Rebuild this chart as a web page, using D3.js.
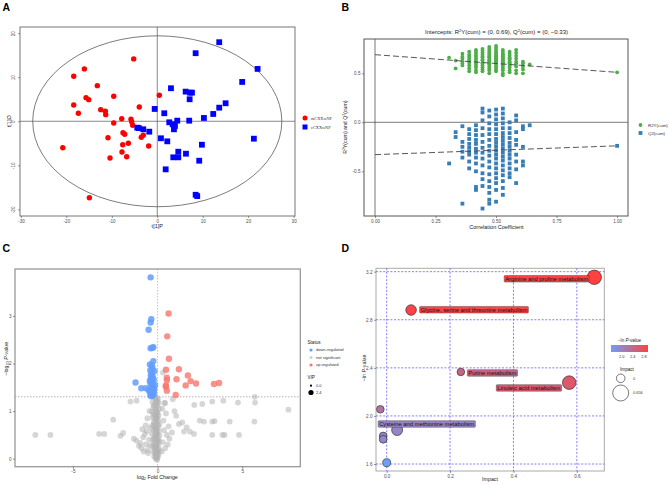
<!DOCTYPE html>
<html><head><meta charset="utf-8">
<script src="https://cdn.jsdelivr.net/npm/d3@7"></script>
<style>body{margin:0;background:#fff}svg{display:block;font-family:"Liberation Sans",Arial,sans-serif}</style>
</head><body><svg id="c" width="669" height="485"></svg>
<script>
// ---------------- Panel A data (OPLS-DA scores) ----------------
const aGroups = ["mCXXwNP", "cCXXwNP"];
const aRedX = [-5.19,-16.04,-18.38,-13.19,-9.58,-15.67,-15.08,-18.38,-3.96,-12.44,-11.43,-17.36,-11.34,-7.82,-5.78,-5.63,-9.58,-5.41,-7.54,-7.16,-3.08,-3.52,-10.84,-1.89,-7.60,-6.37,-20.79,-7.76,-6.73,-10.40,-14.94,0.45];
const aRedY = [14.16,11.89,10.23,8.09,5.68,5.36,4.91,3.70,3.25,2.64,2.27,1.82,1.50,0.59,0.45,-0.09,-0.39,-0.91,-2.59,-2.95,-3.18,-3.64,-3.73,-5.61,-5.32,-5.00,-6.00,-6.98,-8.04,-8.34,-17.36,5.90];
const aBlueX = [13.63,8.44,22.07,18.68,3.01,6.24,7.19,7.63,7.12,15.03,13.63,12.31,1.54,10.26,7.03,4.40,2.64,3.38,3.89,3.67,0.81,2.20,21.25,9.82,4.62,6.31,3.52,4.62,9.23,1.85,8.44,8.79,-0.57,-4.40,-4.05,-3.08,-1.76];
const aBlueY = [17.95,15.45,11.89,8.93,7.50,6.73,6.50,6.50,5.00,4.09,3.09,1.66,1.82,0.75,0.14,0.14,-0.23,-0.68,-1.07,-1.82,-3.86,-4.55,-3.95,-5.32,-6.91,-7.36,-8.18,-8.18,-8.95,-10.91,-16.68,-16.98,2.80,-1.45,-1.55,-1.82,-2.36];
const aXTicks = [-30,-20,-10,0,10,20,30];
const aYTicks = [-20,-10,0,10,20];
const aEllipse = [27.4, 19.4];

// ---------------- Panel B data (permutation test) ----------------
const bCorr = [0.306,0.333,0.361,0.389,0.417,0.444,0.472,0.500,0.528,0.556,0.583,0.611,0.639];
const bR2 = [
  [0.66],
  [0.63,0.55],
  [0.70,0.67,0.65,0.62,0.60,0.58],
  [0.72,0.69,0.67,0.65,0.63,0.61,0.58,0.55,0.52],
  [0.74,0.72,0.70,0.68,0.66,0.64,0.62,0.60,0.58,0.56,0.53,0.51],
  [0.75,0.73,0.71,0.69,0.67,0.66,0.64,0.63,0.61,0.60,0.58,0.56,0.54,0.52],
  [0.77,0.75,0.73,0.71,0.70,0.68,0.67,0.66,0.64,0.63,0.62,0.60,0.59,0.57,0.55,0.53,0.50],
  [0.78,0.76,0.74,0.72,0.71,0.69,0.68,0.67,0.66,0.65,0.64,0.63,0.62,0.61,0.60,0.58,0.56,0.54,0.52],
  [0.74,0.72,0.70,0.69,0.68,0.67,0.66,0.65,0.64,0.63,0.62,0.61,0.60,0.59,0.57,0.55,0.53,0.50,0.48],
  [0.72,0.70,0.68,0.66,0.65,0.64,0.62,0.61,0.60,0.58,0.56,0.53,0.51],
  [0.74,0.71,0.68,0.65,0.62,0.60,0.57,0.53,0.50],
  [0.62,0.60,0.57,0.54,0.50],
  [0.59]
];
const bQ2 = [
  [-0.42],
  [-0.10,-0.15],
  [-0.04,-0.20,-0.25,-0.30,-0.36,-0.83],
  [-0.07,-0.12,-0.17,-0.22,-0.26,-0.30,-0.33,-0.40,-0.47],
  [-0.03,-0.08,-0.13,-0.18,-0.22,-0.27,-0.31,-0.36,-0.42,-0.50,-0.66,-0.69],
  [0.14,0.10,0.02,-0.06,-0.13,-0.20,-0.26,-0.31,-0.37,-0.44,-0.52,-0.58,-0.65,-0.88],
  [0.12,0.06,-0.01,-0.07,-0.12,-0.18,-0.24,-0.29,-0.34,-0.40,-0.46,-0.53,-0.60,-0.66,-0.72,-0.79,-0.83],
  [0.13,0.08,0.03,-0.02,-0.07,-0.12,-0.17,-0.21,-0.25,-0.29,-0.33,-0.37,-0.42,-0.47,-0.52,-0.57,-0.62,-0.69,-0.81],
  [0.14,0.09,0.04,-0.01,-0.06,-0.11,-0.15,-0.19,-0.23,-0.27,-0.31,-0.35,-0.39,-0.44,-0.49,-0.54,-0.60,-0.67,-0.74],
  [0.00,-0.06,-0.11,-0.16,-0.21,-0.25,-0.29,-0.33,-0.37,-0.42,-0.47,-0.52,-0.56],
  [0.07,0.02,-0.10,-0.18,-0.23,-0.33,-0.40,-0.48,-0.62],
  [-0.04,-0.07,-0.25,-0.40,-0.44],
  [-0.03]
];
const bModel = {corr: 1.0, r2: 0.51, q2: -0.24};
const bIntercepts = {r2: 0.69, q2: -0.33};
const bSeries = ["R2Y(cum)", "Q2(cum)"];
const bXTicks = [0, 0.25, 0.5, 0.75, 1.0];
const bYTicks = [-0.5, 0, 0.5];

// ---------------- Panel C data (volcano) ----------------
const cDownX = [-0.41,-0.37,-0.41,-0.53,-0.41,-0.31,-0.25,-0.25,-0.45,-0.33,-0.30,-0.43,-0.18,-0.35,-0.40,-0.28,-0.38,-0.22,-0.33,-1.30,-0.42,-0.28,-0.36,-0.96,-0.69,-0.25,-0.40,-0.30,-0.45,-0.35,-0.22,-0.42,-0.30,-0.38,-0.52,-0.24,-0.33,-0.46,-0.15,-0.20];
const cDownY = [3.81,2.93,2.86,2.71,2.32,2.33,2.34,2.05,1.98,1.96,1.90,1.86,1.84,1.80,1.75,1.72,1.68,1.66,1.62,1.60,1.58,1.55,1.52,1.48,1.48,1.48,1.45,1.42,1.40,1.38,1.36,1.34,1.33,1.31,1.44,1.40,1.70,1.64,1.55,1.45];
const cUpX = [0.65,0.57,0.67,0.50,1.26,0.55,0.55,1.12,1.79,1.95,2.27,1.66,0.49,0.49,0.55,1.07,3.33,3.63];
const cUpY = [3.05,2.57,2.10,1.87,1.88,1.70,1.65,1.67,1.75,1.63,1.58,1.54,1.54,1.51,1.43,1.34,1.57,1.59];
const cNsX = [-0.20,0.02,-0.10,-0.30,0.05,-0.15,-0.02,-0.25,0.08,-0.12,-0.33,0.00,-0.18,0.06,-0.08,-0.27,-0.14,0.03,-0.22,-0.05,0.10,-0.30,-0.16,0.01,-0.09,-0.24,0.07,-0.13,-0.35,-0.02,0.12,-0.20,-0.07,0.04,-0.28,-0.15,0.09,-0.04,-0.22,0.02,-0.11,-0.31,0.06,-0.17,-0.06,0.11,-0.25,-0.01,-0.14,0.05,-0.09,-0.20,0.01,-0.12,-0.04,
  -0.05,-0.22,-0.06,-0.11,-0.01,-0.19,-0.04,-0.10,-0.17,-0.01,-0.08,-0.18,-0.03,-0.10,0.00,-0.16,0.03,-0.26,0.00,-0.12,
  -0.07,-0.13,-0.02,-0.09,-0.15,-0.05,-0.11,-0.03,-0.08,-0.14,-0.06,-0.10,-0.04,-0.12,-0.07,
  -1.25,-1.02,-1.40,-0.85,-0.70,-0.95,-0.60,-0.75,-1.10,-0.50,-0.55,-0.82,-0.45,-0.65,-0.90,0.30,0.45,0.55,0.38,0.70,0.25,0.60,0.85,0.35,0.50,0.28,0.40,0.65,-0.60,-0.48,-0.70,-0.42,
  -7.22,-6.33,-3.45,-3.15,-2.62,-2.19,-2.03,-1.60,-1.24,2.17,2.64,3.23,3.88,4.75,5.76,5.74,7.73,2.49,2.74,3.23,3.37,4.26,5.72,1.46,1.26,3.23,3.83,3.96,4.81,2.15,1.91,1.56,1.72,0.32,0.45,1.00,0.90,1.10];
const cNsY = [1.28,1.26,1.22,1.19,1.17,1.14,1.11,1.08,1.05,1.02,0.99,0.97,0.94,0.91,0.88,0.86,0.83,0.80,0.77,0.75,0.72,0.70,0.68,0.65,0.62,0.60,0.58,0.55,0.53,0.51,0.49,0.47,0.45,0.42,0.40,0.38,0.36,0.34,0.31,0.29,0.27,0.25,0.23,0.21,0.19,0.17,0.15,0.13,0.11,0.09,0.07,0.05,0.03,0.01,-0.02,
  1.25,1.12,1.00,0.90,0.85,0.72,0.58,0.50,0.43,0.39,0.30,0.26,0.16,0.10,0.06,0.33,0.70,0.92,1.20,1.30,
  1.16,1.04,0.96,0.81,0.66,0.55,0.46,0.36,0.24,0.18,0.12,0.04,0.00,0.62,0.08,
  0.38,0.33,0.42,0.45,0.30,0.22,0.18,0.52,0.27,0.40,0.12,0.15,0.28,0.58,0.62,0.35,0.22,0.50,0.60,0.42,0.15,0.30,0.55,0.80,0.95,1.05,1.17,0.68,0.85,1.00,0.70,0.65,
  0.50,0.50,0.52,0.52,0.82,0.48,0.54,1.20,1.22,1.13,1.15,1.20,1.22,1.18,1.18,1.30,1.03,0.80,0.78,0.78,0.79,0.78,0.78,0.76,0.73,0.50,0.50,0.50,0.50,0.52,0.57,0.57,0.66,1.81,1.17,1.00,1.25,0.90];
const cStatus = ["down-regulated", "not significant", "up-regulated"];
const cVipKeys = ["0.0", "2.4"];
const cXTicks = [-5, 0, 5];
const cYTicks = [0, 1, 2, 3];
const cThresholdP = 1.30;

// ---------------- Panel D data (pathway enrichment) ----------------
const dPathways = ["Arginine and proline metabolism","Glycine, serine and threonine metabolism","Purine metabolism","Linoleic acid metabolism","","Cysteine and methionine metabolism","","",""];
const dImpact = [0.655,0.077,0.234,0.576,-0.020,0.033,-0.011,-0.011,0.000];
const dLnP = [3.153,2.881,2.366,2.277,2.055,1.883,1.833,1.806,1.611];
const dColorVal = [2.95,2.92,2.45,2.62,2.22,1.98,1.92,1.92,1.61];
const dSize = [0.656,0.29,0.0,0.58,0.0,0.33,0.02,0.02,0.04];
const dXTicks = [0.0, 0.2, 0.4, 0.6];
const dYTicks = [1.6, 2.0, 2.4, 2.8, 3.2];
const dColorTicks = [2.0, 2.4, 2.8];
const dColorRange = [1.61, 2.95];
const dSizeKeys = [0, 0.656];

// ===================================================================
const svg = d3.select("#c");
const FONT = "Liberation Sans, Arial, sans-serif";

function panelLabel(t, x, y) {
  svg.append("text").attr("x", x).attr("y", y).attr("font-size", 10.5)
    .attr("font-weight", "bold").attr("font-family", FONT).text(t);
}
function styleAxis(g) {
  g.attr("font-family", FONT).attr("font-size", 4.6);
  g.select(".domain").remove();
  g.selectAll(".tick line").attr("stroke", "#333").attr("stroke-width", 0.5);
  g.selectAll(".tick text").attr("fill", "#4d4d4d");
}

// ---------------- Panel A ----------------
panelLabel("A", 2.5, 11);
{
  const x = d3.scaleLinear().domain([-30.2, 30.3]).range([20, 295]);
  const y = d3.scaleLinear().domain([-21.5, 21.4]).range([216, 27]);
  const g = svg.append("g");
  g.append("rect").attr("x", 20).attr("y", 27).attr("width", 275).attr("height", 189)
    .attr("fill", "none").attr("stroke", "#777").attr("stroke-width", 1);
  g.append("ellipse").attr("cx", x(0)).attr("cy", y(0))
    .attr("rx", x(aEllipse[0]) - x(0)).attr("ry", y(0) - y(aEllipse[1]))
    .attr("fill", "none").attr("stroke", "#444").attr("stroke-width", 0.7);
  g.append("line").attr("x1", x(0)).attr("x2", x(0)).attr("y1", 27).attr("y2", 216).attr("stroke", "#555").attr("stroke-width", 0.7);
  g.append("line").attr("x1", 20).attr("x2", 295).attr("y1", y(0)).attr("y2", y(0)).attr("stroke", "#555").attr("stroke-width", 0.7);
  const ax = g.append("g").attr("transform", "translate(0,216)")
    .call(d3.axisBottom(x).tickValues(aXTicks).tickSize(2).tickPadding(1.5).tickFormat(d => d)); styleAxis(ax);
  const ay = g.append("g").attr("transform", "translate(20,0)")
    .call(d3.axisLeft(y).tickValues(aYTicks).tickSize(2).tickPadding(1.5).tickFormat(d => d)); styleAxis(ay);
  ay.selectAll(".tick text").attr("transform", "rotate(-90)").attr("text-anchor", "middle").attr("x", 0).attr("dy", 0).attr("y", -5);
  g.append("text").attr("x", x(0)).attr("y", 228).attr("text-anchor", "middle").attr("font-size", 5.5).attr("fill", "#222").text("t[1]P");
  g.append("text").attr("transform", `translate(11,${y(0)}) rotate(-90)`).attr("text-anchor", "middle").attr("font-size", 5.5).attr("fill", "#222").text("t[1]O");
  g.selectAll(".rp").data(aRedX).join("circle").attr("cx", (d) => x(d)).attr("cy", (d, i) => y(aRedY[i])).attr("r", 2.7).attr("fill", "#ff0000");
  g.selectAll(".bp").data(aBlueX).join("rect").attr("x", d => x(d) - 2.9).attr("y", (d, i) => y(aBlueY[i]) - 2.9).attr("width", 5.8).attr("height", 5.8).attr("fill", "#0000ff");
  // legend
  g.append("circle").attr("cx", 305).attr("cy", 118).attr("r", 2.5).attr("fill", "#ff0000");
  g.append("rect").attr("x", 302.5).attr("y", 124.5).attr("width", 5).attr("height", 5).attr("fill", "#0000ff");
  aGroups.forEach((t, i) => g.append("text").attr("x", 311).attr("y", 119.6 + i * 9).attr("font-size", 4.3)
    .attr("font-family", "Liberation Serif, serif").attr("fill", "#333").text(t));
}

// ---------------- Panel B ----------------
panelLabel("B", 341.5, 11);
{
  const x = d3.scaleLinear().domain([-0.0455, 1.045]).range([364, 628]);
  const y = d3.scaleLinear().domain([-0.956, 0.85]).range([216, 39]);
  const g = svg.append("g");
  g.append("line").attr("x1", x(0)).attr("x2", x(0)).attr("y1", 39).attr("y2", 216).attr("stroke", "#aaa").attr("stroke-width", 1.6);
  g.append("line").attr("x1", 364).attr("x2", 628).attr("y1", y(0)).attr("y2", y(0)).attr("stroke", "#444").attr("stroke-width", 0.7);
  const r2pts = [], q2pts = [];
  bCorr.forEach((c, i) => { bR2[i].forEach(v => r2pts.push([c, v])); bQ2[i].forEach(v => q2pts.push([c, v])); });
  r2pts.push([bModel.corr, bModel.r2]); q2pts.push([bModel.corr, bModel.q2]);
  g.selectAll(".g2").data(r2pts).join("circle").attr("cx", d => x(d[0])).attr("cy", d => y(d[1])).attr("r", 1.9).attr("fill", "#4DAF4A");
  g.selectAll(".q2").data(q2pts).join("rect").attr("x", d => x(d[0]) - 1.9).attr("y", d => y(d[1]) - 1.9).attr("width", 3.8).attr("height", 3.8).attr("fill", "#377EB8");
  g.append("line").attr("x1", x(0)).attr("y1", y(bIntercepts.r2)).attr("x2", x(bModel.corr)).attr("y2", y(bModel.r2))
    .attr("stroke", "#444").attr("stroke-width", 0.9).attr("stroke-dasharray", "6,3");
  g.append("line").attr("x1", x(0)).attr("y1", y(bIntercepts.q2)).attr("x2", x(bModel.corr)).attr("y2", y(bModel.q2))
    .attr("stroke", "#444").attr("stroke-width", 0.9).attr("stroke-dasharray", "6,3");
  g.append("rect").attr("x", 364).attr("y", 39).attr("width", 264).attr("height", 177)
    .attr("fill", "none").attr("stroke", "#555").attr("stroke-width", 1);
  const ax = g.append("g").attr("transform", "translate(0,216)")
    .call(d3.axisBottom(x).tickValues(bXTicks).tickSize(2).tickPadding(1.5).tickFormat(d3.format(".2f"))); styleAxis(ax);
  const ay = g.append("g").attr("transform", "translate(364,0)")
    .call(d3.axisLeft(y).tickValues(bYTicks).tickSize(2).tickPadding(1.5).tickFormat(d => (d < 0 ? "-" : "") + Math.abs(d).toFixed(1))); styleAxis(ay);
  // title
  const t = g.append("text").attr("x", 496.5).attr("y", 33.5).attr("text-anchor", "middle").attr("font-size", 6).attr("fill", "#222");
  t.append("tspan").text("Intercepts: R");
  t.append("tspan").attr("dy", -2).attr("font-size", 4).text("2");
  t.append("tspan").attr("dy", 2).text("Y(cum) = (0, " + bIntercepts.r2 + "), Q");
  t.append("tspan").attr("dy", -2).attr("font-size", 4).text("2");
  t.append("tspan").attr("dy", 2).text("(cum) = (0, \u2212" + Math.abs(bIntercepts.q2) + ")");
  g.append("text").attr("x", 496.5).attr("y", 228.5).attr("text-anchor", "middle").attr("font-size", 5.5).attr("fill", "#222").text("Correlation Coefficient");
  const yl = g.append("text").attr("transform", `translate(346.5,${y(-0.05)}) rotate(-90)`).attr("text-anchor", "middle").attr("font-size", 5.2).attr("fill", "#222");
  yl.append("tspan").text("R"); yl.append("tspan").attr("dy", -1.8).attr("font-size", 3.6).text("2");
  yl.append("tspan").attr("dy", 1.8).text("Y(cum) and Q"); yl.append("tspan").attr("dy", -1.8).attr("font-size", 3.6).text("2");
  yl.append("tspan").attr("dy", 1.8).text("(cum)");
  // legend
  g.append("circle").attr("cx", 640.5).attr("cy", 125).attr("r", 1.9).attr("fill", "#4DAF4A");
  g.append("rect").attr("x", 638.6).attr("y", 131.1).attr("width", 3.8).attr("height", 3.8).attr("fill", "#377EB8");
  bSeries.forEach((s, i) => g.append("text").attr("x", 648).attr("y", 126.6 + i * 8).attr("font-size", 4.4).attr("fill", "#333").text(s));
}

// ---------------- Panel C ----------------
panelLabel("C", 2.5, 251.5);
{
  const x = d3.scaleLinear().domain([-8.42, 8.43]).range([15, 300.3]);
  const y = d3.scaleLinear().domain([-0.168, 3.985]).range([466.7, 269]);
  const g = svg.append("g");
  const ns = cNsX.map((d, i) => [d, cNsY[i]]);
  g.selectAll(".ns").data(ns).join("circle").attr("cx", d => x(d[0])).attr("cy", d => y(d[1])).attr("r", 2.9)
    .attr("fill", "#b5b5b5").attr("fill-opacity", 0.55);
  g.append("line").attr("x1", x(0)).attr("x2", x(0)).attr("y1", 269).attr("y2", 466.7).attr("stroke", "#aaa").attr("stroke-width", 0.7).attr("stroke-dasharray", "1.5,1.5");
  g.append("line").attr("x1", 15).attr("x2", 300.3).attr("y1", y(cThresholdP)).attr("y2", y(cThresholdP)).attr("stroke", "#aaa").attr("stroke-width", 0.9).attr("stroke-dasharray", "1.5,1.5");
  const dn = cDownX.map((d, i) => [d, cDownY[i]]);
  const up = cUpX.map((d, i) => [d, cUpY[i]]);
  g.selectAll(".dn").data(dn).join("circle").attr("cx", d => x(d[0])).attr("cy", d => y(d[1])).attr("r", 3.2).attr("fill", "#619CFF").attr("fill-opacity", 0.85);
  g.selectAll(".up").data(up).join("circle").attr("cx", d => x(d[0])).attr("cy", d => y(d[1])).attr("r", 3.2).attr("fill", "#F8766D").attr("fill-opacity", 0.8);
  g.append("rect").attr("x", 15).attr("y", 269).attr("width", 285.3).attr("height", 197.7)
    .attr("fill", "none").attr("stroke", "#999").attr("stroke-width", 1.3);
  const ax = g.append("g").attr("transform", "translate(0,466.7)")
    .call(d3.axisBottom(x).tickValues(cXTicks).tickSize(2).tickPadding(1.5).tickFormat(d => d)); styleAxis(ax);
  const ay = g.append("g").attr("transform", "translate(15,0)")
    .call(d3.axisLeft(y).tickValues(cYTicks).tickSize(2).tickPadding(1.5).tickFormat(d => d)); styleAxis(ay);
  const xl = g.append("text").attr("x", 157.3).attr("y", 478.5).attr("text-anchor", "middle").attr("font-size", 5.3).attr("fill", "#222");
  xl.append("tspan").text("log"); xl.append("tspan").attr("dy", 1.3).attr("font-size", 3.8).text("2"); xl.append("tspan").attr("dy", -1.3).text(" Fold Change");
  const yl = g.append("text").attr("transform", `translate(8,${y(2.1)}) rotate(-90)`).attr("text-anchor", "middle").attr("font-size", 5.3).attr("fill", "#222");
  yl.append("tspan").text("\u2212log"); yl.append("tspan").attr("dy", 1.3).attr("font-size", 3.8).text("10");
  yl.append("tspan").attr("dy", -1.3).text(" "); yl.append("tspan").attr("font-style", "italic").text("P"); yl.append("tspan").text("-value");
  // legend
  const lx = 307.5;
  g.append("text").attr("x", lx).attr("y", 344).attr("font-size", 4.6).attr("fill", "#222").text("Status");
  const lc = ["#619CFF", "#cfcfcf", "#F8766D"];
  cStatus.forEach((s, i) => {
    g.append("circle").attr("cx", lx + 3.5).attr("cy", 350 + i * 7.5).attr("r", 1.6).attr("fill", lc[i]);
    g.append("text").attr("x", lx + 8.5).attr("y", 351.4 + i * 7.5).attr("font-size", 4).attr("fill", "#333").text(s);
  });
  g.append("text").attr("x", lx).attr("y", 379).attr("font-size", 4.6).attr("fill", "#222").text("VIP");
  const vr = [1.1, 2.6];
  cVipKeys.forEach((s, i) => {
    g.append("circle").attr("cx", lx + 3.5).attr("cy", 385.7 + i * 6.8).attr("r", vr[i]).attr("fill", "#000");
    g.append("text").attr("x", lx + 8.5).attr("y", 387.1 + i * 6.8).attr("font-size", 4).attr("fill", "#333").text(s);
  });
}

// ---------------- Panel D ----------------
panelLabel("D", 341.5, 251.5);
{
  const x = d3.scaleLinear().domain([-0.0337, 0.6866]).range([376, 604.3]);
  const y = d3.scaleLinear().domain([1.542, 3.228]).range([471, 268.3]);
  const col = d3.scaleLinear().domain(dColorRange).range(["#6F9EF4", "#FF4141"]).interpolate(d3.interpolateRgb).clamp(true);
  const rs = d3.scaleLinear().domain([0, 0.656]).range([3.8, 7.2]);
  const g = svg.append("g");
  g.append("rect").attr("x", 376).attr("y", 268.3).attr("width", 228.3).attr("height", 202.7)
    .attr("fill", "none").attr("stroke", "#aaa").attr("stroke-width", 1);
  dXTicks.forEach(v => g.append("line").attr("x1", x(v)).attr("x2", x(v)).attr("y1", 268.3).attr("y2", 471)
    .attr("stroke", "#6b5cff").attr("stroke-width", 0.8).attr("stroke-dasharray", "2,1.6"));
  dYTicks.forEach(v => g.append("line").attr("x1", 376).attr("x2", 604.3).attr("y1", y(v)).attr("y2", y(v))
    .attr("stroke", "#6b5cff").attr("stroke-width", 0.8).attr("stroke-dasharray", "2,1.6"));
  const ax = g.append("g").attr("transform", "translate(0,471)")
    .call(d3.axisBottom(x).tickValues(dXTicks).tickSize(2).tickPadding(1.5).tickFormat(d3.format(".1f"))); styleAxis(ax);
  const ay = g.append("g").attr("transform", "translate(376,0)")
    .call(d3.axisLeft(y).tickValues(dYTicks).tickSize(2).tickPadding(1.5).tickFormat(d3.format(".1f"))); styleAxis(ay);
  g.append("text").attr("x", 490).attr("y", 481).attr("text-anchor", "middle").attr("font-size", 5.3).attr("fill", "#222").text("Impact");
  const yl = g.append("text").attr("transform", `translate(366,${y(2.4)}) rotate(-90)`).attr("text-anchor", "middle").attr("font-size", 5.3).attr("fill", "#222");
  yl.append("tspan").text("\u2212ln "); yl.append("tspan").attr("font-style", "italic").text("P"); yl.append("tspan").text("-value");
  const pts = dImpact.map((d, i) => ({x: d, y: dLnP[i], c: dColorVal[i], s: dSize[i], name: dPathways[i]}));
  g.selectAll(".bub").data(pts).join("circle").attr("cx", d => x(d.x)).attr("cy", d => y(d.y)).attr("r", d => rs(d.s))
    .attr("fill", d => col(d.c)).attr("stroke", "#222").attr("stroke-width", 0.6);
  // label placement offsets (layout, not data)
  const labelPos = [
    {anchor: "end", dx: -6.3, dy: 1.5},
    {anchor: "start", dx: 9.5, dy: -0.3},
    {anchor: "start", dx: 7.5, dy: 1},
    {anchor: "end", dx: -8.8, dy: 5.3},
    null,
    {anchor: "start", dx: -18, dy: -6},
    null, null, null
  ];
  pts.forEach((p, i) => {
    const lp = labelPos[i]; if (!lp || !p.name) return;
    const tx = x(p.x) + lp.dx, ty = y(p.y) + lp.dy;
    const lg = g.append("g");
    const tt = lg.append("text").attr("x", tx).attr("y", ty + 2).attr("text-anchor", lp.anchor)
      .attr("font-size", 5.8).attr("fill", "#111").text(p.name);
    const bb = tt.node().getBBox();
    lg.insert("rect", "text").attr("x", bb.x - 1).attr("y", ty - 3.3).attr("width", bb.width + 2).attr("height", 6.6)
      .attr("rx", 0.8).attr("fill", col(p.c)).attr("stroke", "#333").attr("stroke-width", 0.4);
  });
  // color legend
  const gx0 = 611, gx1 = 648;
  const gs = d3.scaleLinear().domain(dColorRange).range([gx0, gx1]);
  const defs = svg.append("defs");
  const lgd = defs.append("linearGradient").attr("id", "lnpGrad");
  d3.range(0, 1.001, 0.1).forEach(t => lgd.append("stop").attr("offset", t).attr("stop-color", col(dColorRange[0] + t * (dColorRange[1] - dColorRange[0]))));
  g.append("text").attr("x", 629.5).attr("y", 341.5).attr("text-anchor", "middle").attr("font-size", 4.6).attr("fill", "#222")
    .call(s => { s.append("tspan").text("\u2212ln "); s.append("tspan").attr("font-style", "italic").text("P"); s.append("tspan").text("-value"); });
  g.append("rect").attr("x", gx0).attr("y", 345).attr("width", gx1 - gx0).attr("height", 7).attr("fill", "url(#lnpGrad)");
  dColorTicks.forEach(v => {
    g.append("text").attr("x", gs(v)).attr("y", 357.5).attr("text-anchor", "middle").attr("font-size", 3.9).attr("fill", "#333").text(v.toFixed(1));
  });
  g.append("text").attr("x", 627).attr("y", 371).attr("text-anchor", "middle").attr("font-size", 4.6).attr("fill", "#222").text("Impact");
  const lr = [4.3, 8];
  dSizeKeys.forEach((v, i) => {
    const cy = i === 0 ? 378.3 : 393;
    g.append("circle").attr("cx", 620.7).attr("cy", cy).attr("r", lr[i]).attr("fill", "none").attr("stroke", "#222").attr("stroke-width", 0.6);
    g.append("text").attr("x", 633).attr("y", cy + 1.4).attr("font-size", 3.9).attr("fill", "#333").text(v);
  });
}
</script></body></html>
